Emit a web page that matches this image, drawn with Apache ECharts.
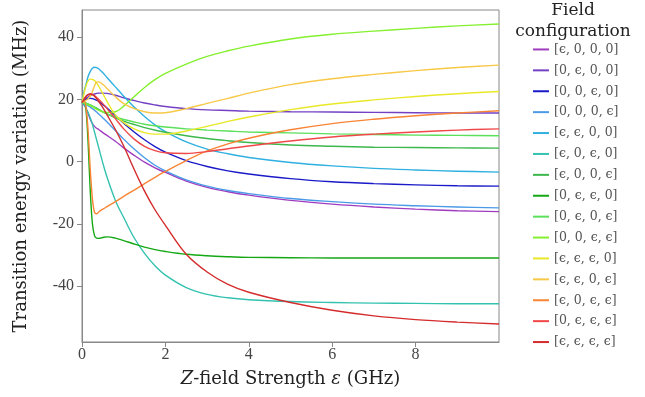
<!DOCTYPE html>
<html>
<head>
<meta charset="utf-8">
<script src="https://cdn.jsdelivr.net/npm/echarts@6/dist/echarts.min.js"></script>
<style>
  html, body { margin: 0; padding: 0; background: #fff; }
  #chart { width: 645px; height: 397px; }
</style>
</head>
<body>
<div id="chart"></div>
<script>
// field strength samples (GHz)
const xs = [0, 0.05, 0.1, 0.15, 0.2, 0.25, 0.3, 0.35, 0.4, 0.5, 0.6, 0.8, 1, 1.25, 1.5, 1.75, 2, 2.5, 3, 3.5, 4, 5, 6, 7, 8, 9, 10];

const labels = [
  "[ϵ, 0, 0, 0]", "[0, ϵ, 0, 0]", "[0, 0, ϵ, 0]", "[0, 0, 0, ϵ]", "[ϵ, ϵ, 0, 0]",
  "[ϵ, 0, ϵ, 0]", "[ϵ, 0, 0, ϵ]", "[0, ϵ, ϵ, 0]", "[0, ϵ, 0, ϵ]", "[0, 0, ϵ, ϵ]",
  "[ϵ, ϵ, ϵ, 0]", "[ϵ, ϵ, 0, ϵ]", "[ϵ, 0, ϵ, ϵ]", "[0, ϵ, ϵ, ϵ]", "[ϵ, ϵ, ϵ, ϵ]"
];

const colors = [
  "#a03cc0", "#7440c4", "#1a1ac8", "#4a9ae8", "#30b0e0",
  "#34c2b0", "#3cb84c", "#14a814", "#5ae05a", "#84f030",
  "#e8e828", "#f8c848", "#f88434", "#f04848", "#d42c2c"
];

// transition energy variation (MHz), one array per configuration
const e1000 = [19, 18.2, 17, 15.3, 13.5, 12.2, 11.3, 10.7, 10.3, 9.3, 8.4, 6.5, 4.4, 2, -0.2, -2, -3.5, -6.3, -8.3, -9.7, -10.8, -12.5, -13.7, -14.6, -15.3, -15.8, -16.1];
const e0100 = [19, 19.7, 20.3, 20.8, 21.2, 21.5, 21.7, 21.9, 22, 22, 21.9, 21.3, 20.5, 19.6, 18.8, 18.2, 17.7, 17, 16.6, 16.4, 16.2, 16, 15.9, 15.8, 15.7, 15.6, 15.6];
const e0010 = [19, 19.5, 20, 20.2, 20.3, 20.2, 20, 19.7, 19.3, 18.3, 17.2, 14.8, 12.3, 9.5, 7, 4.8, 3, 0.3, -1.6, -3, -4, -5.5, -6.5, -7.1, -7.5, -7.8, -7.9];
const e0001 = [19, 18.7, 18.3, 17.9, 17.5, 17, 16.5, 15.9, 15.3, 14, 12.7, 10, 7.2, 4, 1.2, -1.2, -3, -5.9, -7.9, -9.3, -10.3, -11.9, -12.9, -13.7, -14.2, -14.6, -14.9];
const e1100 = [19, 22.5, 25, 27.5, 29, 30, 30.3, 30.2, 29.8, 28.5, 27, 24, 21, 17.5, 14.5, 11.8, 9.6, 6.3, 4, 2.5, 1.3, -0.3, -1.4, -2.2, -2.7, -3.1, -3.4];
const e1010 = [19, 18.3, 17, 15.7, 14, 12, 9.5, 7, 4.5, -0.5, -5, -12.5, -18, -24.5, -29.5, -33.5, -36.5, -40.5, -42.7, -43.8, -44.4, -45, -45.3, -45.5, -45.6, -45.7, -45.7];
const e1001 = [19, 18.9, 18.7, 18.4, 18.1, 17.8, 17.5, 17.2, 16.8, 16, 15.3, 14, 13, 11.9, 10.9, 10.1, 9.4, 8.3, 7.4, 6.7, 6.1, 5.3, 4.9, 4.6, 4.5, 4.4, 4.3];
const e0110 = [19, 19.5, 16, 5, -10, -20, -23.8, -24.6, -24.7, -24.4, -24.2, -24.6, -25.4, -26.5, -27.5, -28.3, -28.9, -29.8, -30.3, -30.6, -30.8, -30.9, -31, -31, -31, -31, -31];
const e0101 = [19, 19, 18.8, 18.5, 18.2, 17.8, 17.4, 17, 16.6, 15.9, 15.3, 14.3, 13.5, 12.7, 12, 11.5, 11.1, 10.5, 10.1, 9.8, 9.5, 9.2, 8.9, 8.7, 8.5, 8.4, 8.3];
const e0011 = [19, 18.8, 18.5, 18.2, 18, 17.6, 17.2, 16.8, 16.5, 16, 15.8, 16, 17.8, 20.8, 23.8, 26.3, 28.3, 31.3, 33.8, 35.6, 37.1, 39.4, 40.9, 41.9, 42.8, 43.6, 44.2];
const e1110 = [19, 22, 24.5, 26, 26.5, 26.4, 26, 25.2, 24.2, 21.8, 19.3, 15, 12.5, 10.5, 9.3, 8.8, 8.8, 9.8, 11.3, 12.9, 14.3, 16.7, 18.5, 19.8, 20.9, 21.8, 22.5];
const e1101 = [19, 19.3, 19.7, 20.2, 21, 22.5, 24.3, 25.5, 25.6, 24.8, 23.5, 20.8, 18.6, 17, 16, 15.6, 15.7, 17, 18.7, 20.3, 22, 24.7, 26.6, 28, 29.2, 30.2, 31];
const e1011 = [19, 19.5, 17, 9, -3, -12, -16.3, -16.8, -16.2, -15.3, -14.5, -12.9, -11.2, -9.2, -7.1, -5.1, -3.2, 0.3, 3.4, 5.7, 7.5, 10.2, 12.2, 13.6, 14.7, 15.6, 16.3];
const e0111 = [19, 20, 21, 21.5, 21.7, 21.6, 21.2, 20.6, 20, 18.6, 17, 13.8, 10.5, 7.2, 4.9, 3.5, 2.8, 2.6, 3.2, 4.1, 5, 6.6, 7.9, 8.8, 9.5, 10.1, 10.5];
const e1111 = [19, 20, 21, 21.5, 21.7, 21.5, 21, 20.2, 19.3, 17.3, 15, 10.3, 5, -2.5, -9.5, -15.5, -20.5, -29.8, -35.5, -39.5, -42, -45.3, -47.8, -49.6, -50.8, -51.6, -52.2];

const values = [e1000, e0100, e0010, e0001, e1100, e1010, e1001, e0110, e0101, e0011, e1110, e1101, e1011, e0111, e1111];

const xTicks = [0, 2, 4, 6, 8];
const yTicks = [-40, -20, 0, 20, 40];

const serif = "'DejaVu Serif', 'Liberation Serif', serif";
const digits = "'Liberation Serif', 'DejaVu Serif', serif";
const axisGray = "#888";

const chart = echarts.init(document.getElementById("chart"), null, { renderer: "canvas" });

const series = labels.map((name, i) => ({
  name: name,
  type: "line",
  data: xs.map((x, j) => [x, values[i][j]]),
  showSymbol: false,
  symbol: "none",
  smooth: 0.35,
  lineStyle: { width: 1.4, color: colors[i] },
  itemStyle: { color: colors[i] },
  emphasis: { disabled: true },
  animation: false,
}));

const option = {
  backgroundColor: "#fff",
  animation: false,
  title: {
    text: "Field\nconfiguration",
    left: 573,
    top: 0,
    padding: 0,
    textAlign: "center",
    textStyle: {
      fontFamily: serif,
      fontSize: 17,
      fontWeight: "normal",
      lineHeight: 21,
      color: "#222",
    },
  },
  legend: {
    orient: "vertical",
    left: 533,
    top: 39,
    icon: "rect",
    itemWidth: 16,
    itemHeight: 2,
    itemGap: 0,
    padding: 0,
    data: labels,
    textStyle: {
      fontFamily: serif,
      fontSize: 12.5,
      lineHeight: 20.9,
      color: "#555",
    },
  },
  grid: {
    left: 82,
    right: 146,
    top: 10,
    bottom: 55,
    show: true,
    borderColor: axisGray,
    borderWidth: 1,
  },
  xAxis: {
    type: "value",
    min: 0,
    max: 10,
    name: "{i|Z}-field Strength {i|ε} (GHz)",
    nameLocation: "middle",
    nameGap: 28,
    nameTextStyle: {
      fontFamily: serif,
      fontSize: 18,
      color: "#222",
      rich: { i: { fontFamily: serif, fontSize: 18, fontStyle: "italic", color: "#222" } },
    },
    axisLine: { show: true, onZero: false, lineStyle: { color: axisGray } },
    axisTick: { show: true, length: 5, customValues: xTicks, lineStyle: { color: axisGray } },
    axisLabel: {
      customValues: xTicks,
      fontFamily: digits,
      fontSize: 16,
      color: "#444",
      margin: 5,
    },
    splitLine: { show: false },
  },
  yAxis: {
    type: "value",
    min: -58,
    max: 48.7,
    name: "Transition energy variation (MHz)",
    nameLocation: "middle",
    nameGap: 52,
    nameTextStyle: { fontFamily: serif, fontSize: 18, color: "#222" },
    axisLine: { show: true, onZero: false, lineStyle: { color: axisGray } },
    axisTick: { show: true, length: 5, customValues: yTicks, lineStyle: { color: axisGray } },
    axisLabel: {
      customValues: yTicks,
      fontFamily: digits,
      fontSize: 16,
      color: "#444",
      margin: 8,
    },
    splitLine: { show: false },
  },
  series: series,
};

chart.setOption(option);
</script>
</body>
</html>
